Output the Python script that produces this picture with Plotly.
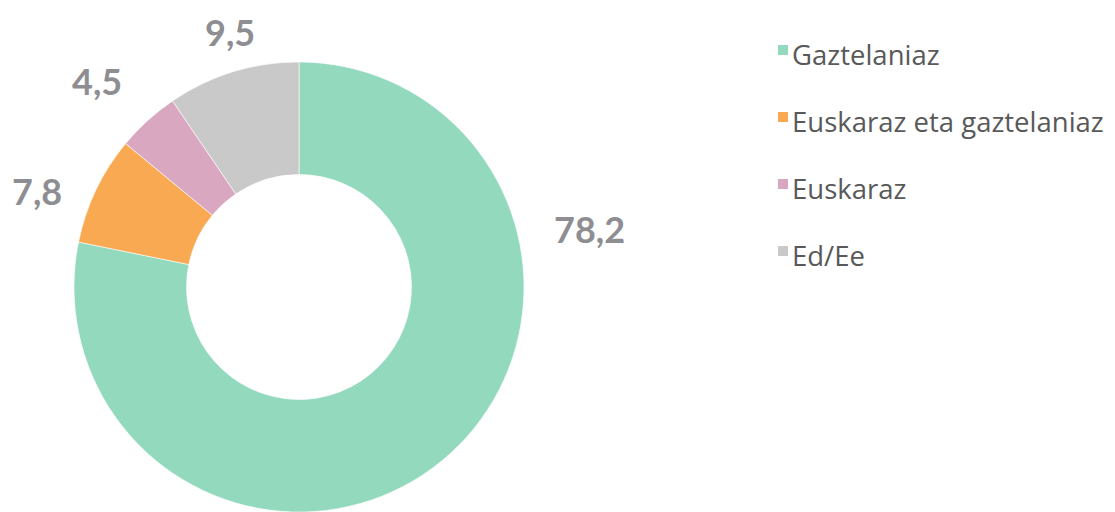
import plotly.graph_objects as go

# Language of use (%)
categories = ["Gaztelaniaz", "Euskaraz eta gaztelaniaz", "Euskaraz", "Ed/Ee"]
values = [78.2, 7.8, 4.5, 9.5]
colors = ["#92D9BD", "#F9A952", "#D9A8C0", "#C9C9C9"]

W, H = 1115, 512
cx, cy, r = 299, 287, 225          # donut centre / radius in px (y from top)

# value label centres, px from top-left
label_pos = [(589, 229), (37, 191), (97, 81), (230, 32)]

fig = go.Figure(go.Pie(
    labels=categories,
    values=values,
    marker=dict(colors=colors, line=dict(color="white", width=0.6)),
    hole=0.5,
    sort=False,
    direction="clockwise",
    rotation=0,
    textinfo="none",
    hoverinfo="label+value",
    showlegend=False,
    domain=dict(x=[(cx - r) / W, (cx + r) / W],
                y=[(H - cy - r) / H, (H - cy + r) / H]),
))

annotations = []
for v, (x, y) in zip(values, label_pos):
    annotations.append(dict(
        x=x / W, y=1 - y / H, xref="paper", yref="paper",
        text=f"{v:.1f}".replace(".", ","), showarrow=False,
        xanchor="center", yanchor="middle",
        font=dict(family="Lato", size=36, color="#8E8E92", weight="bold"),
    ))

# legend built from squares and text
shapes = []
leg_x, leg_y0, leg_dy, sq = 778, 45, 67, 10
for i, (name, c) in enumerate(zip(categories, colors)):
    top = leg_y0 + i * leg_dy
    shapes.append(dict(
        type="rect", xref="paper", yref="paper",
        x0=leg_x / W, x1=(leg_x + sq) / W,
        y0=1 - (top + sq) / H, y1=1 - top / H,
        fillcolor=c, line=dict(width=0),
    ))
    annotations.append(dict(
        x=(leg_x + sq + 2) / W, y=1 - (top + 9) / H, xref="paper", yref="paper",
        text=name, showarrow=False, xanchor="left", yanchor="middle",
        font=dict(family="Open Sans", size=27.5, color="#595959"),
    ))

fig.update_layout(
    width=W, height=H,
    margin=dict(l=0, r=0, t=0, b=0),
    paper_bgcolor="white",
    plot_bgcolor="white",
    annotations=annotations,
    shapes=shapes,
)

fig.write_html("out.html")
